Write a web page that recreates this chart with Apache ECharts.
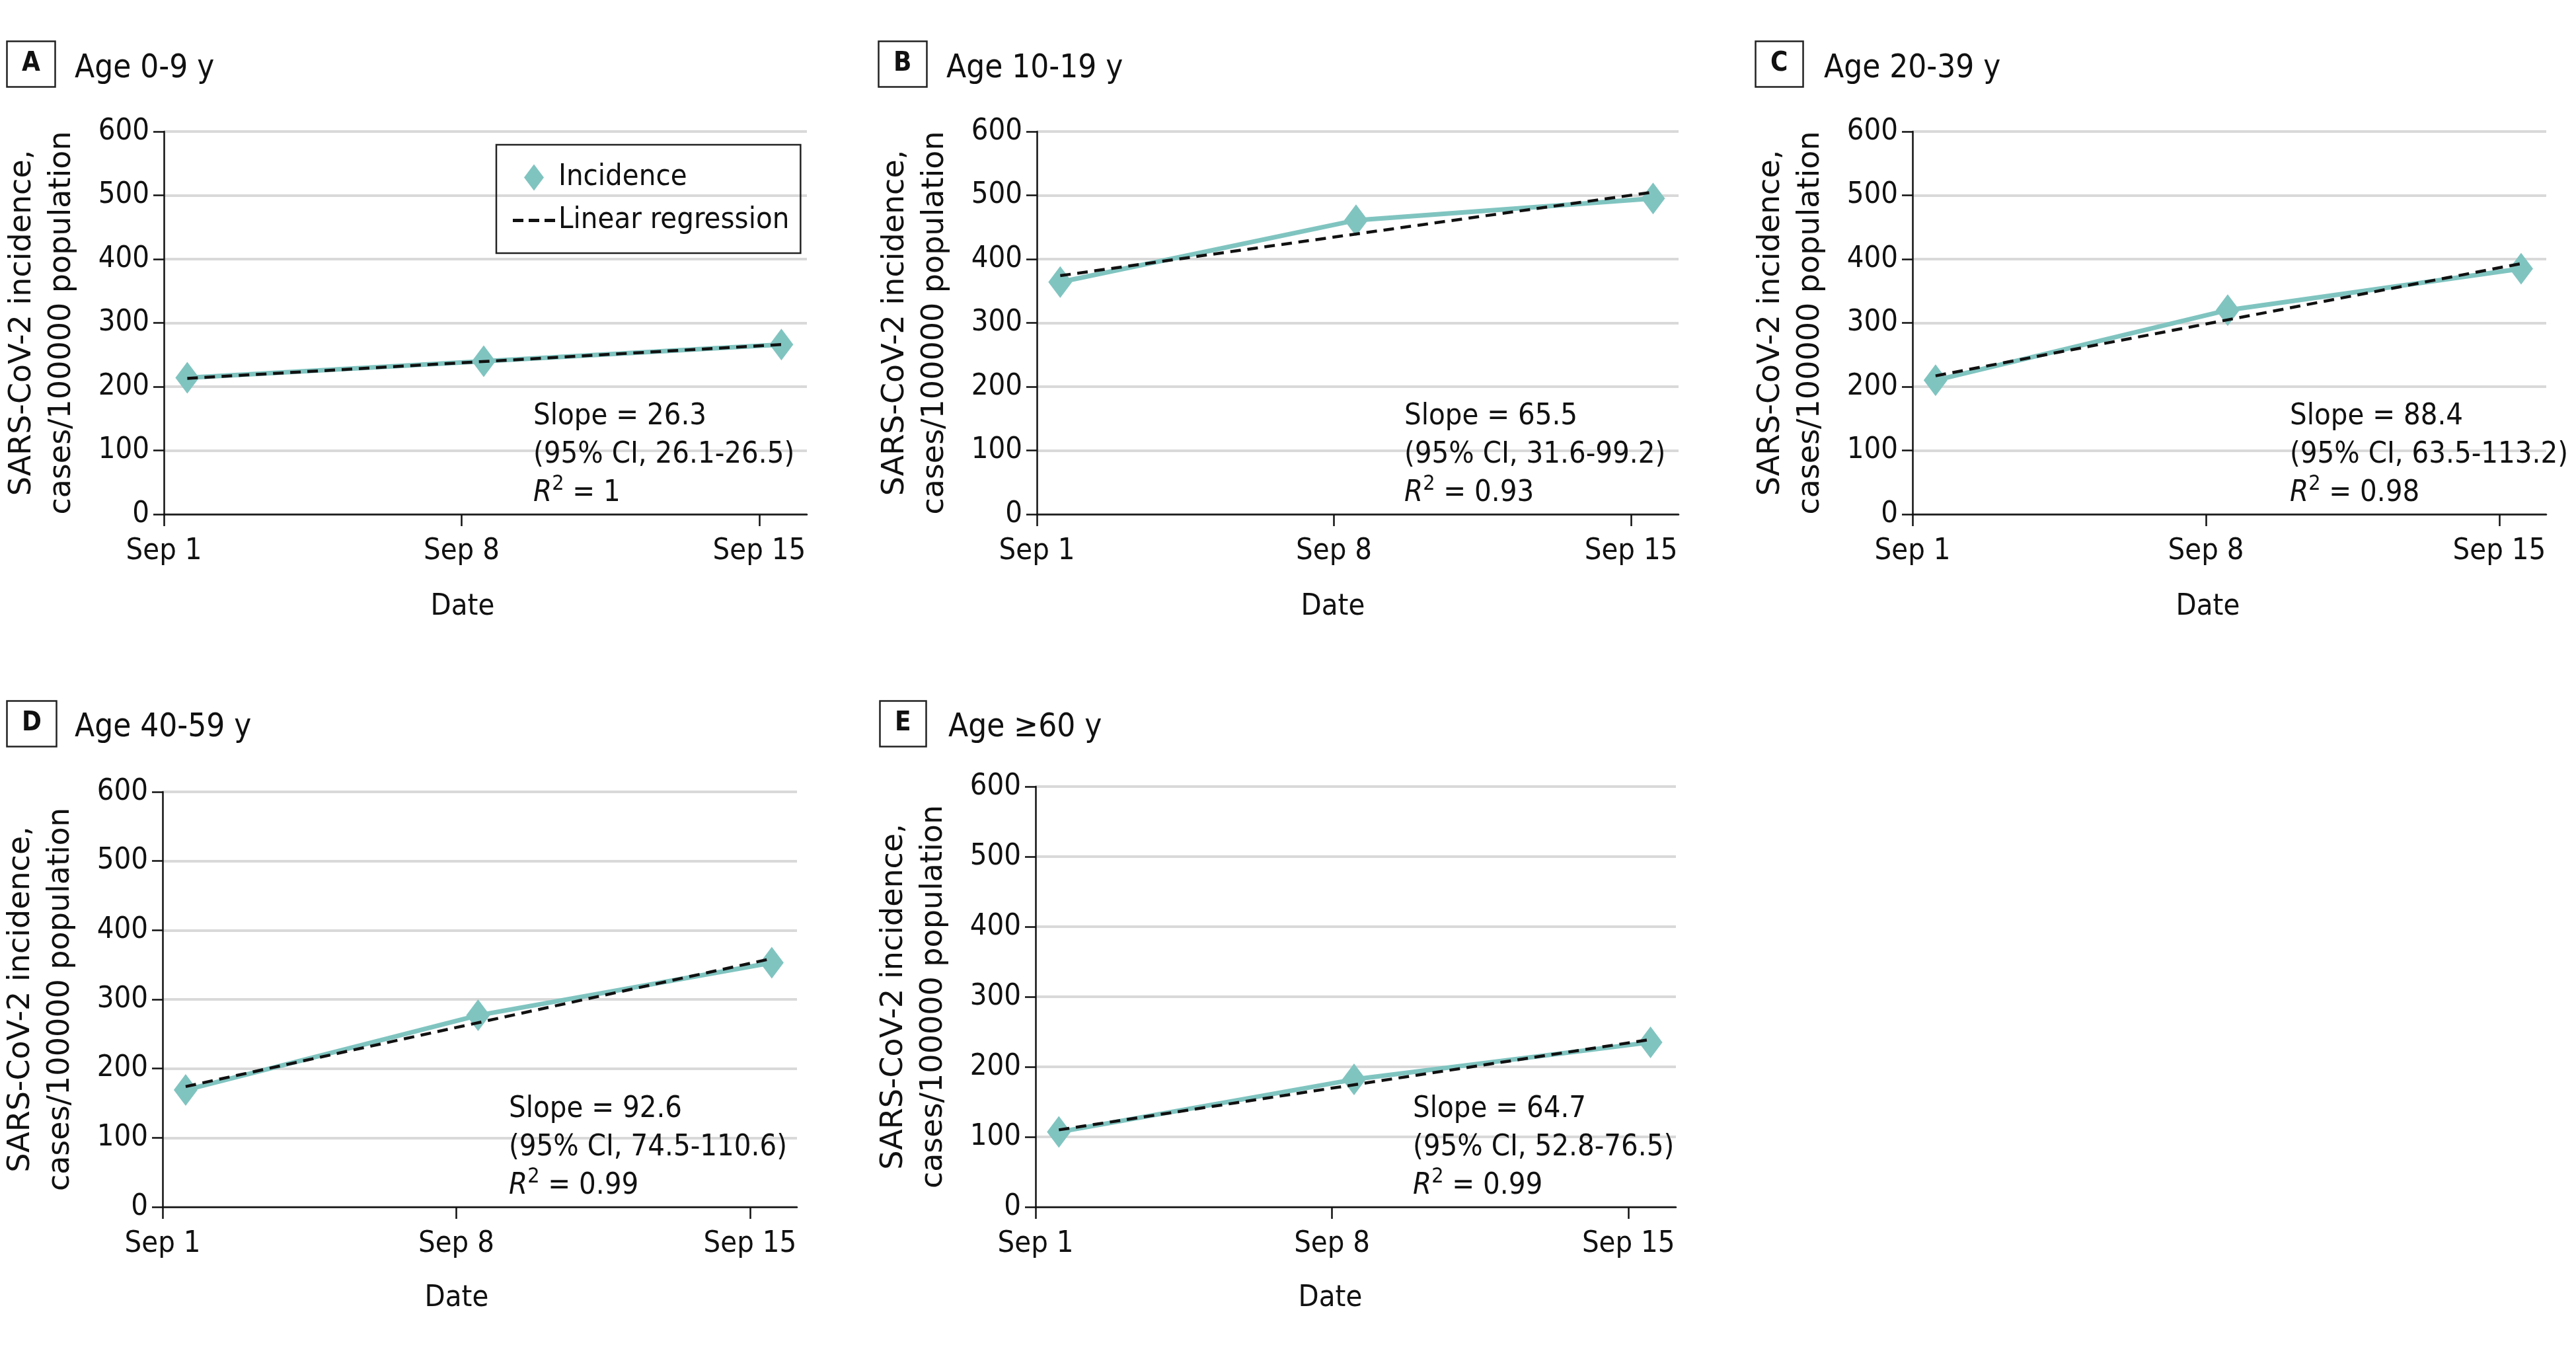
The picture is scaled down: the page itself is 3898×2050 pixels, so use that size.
<!DOCTYPE html>
<html>
<head>
<meta charset="utf-8">
<script src="https://cdn.jsdelivr.net/npm/echarts@6/dist/echarts.min.js"></script>
<style>
html, body { margin: 0; padding: 0; background: #fff; }
#chart { width: 3898px; height: 2050px; }
</style>
</head>
<body>
<div id="chart"></div>
<script>
// ---- data ----
const panelLetters = ['A', 'B', 'C', 'D', 'E'];
const panelTitles = ['Age 0-9 y', 'Age 10-19 y', 'Age 20-39 y', 'Age 40-59 y', 'Age ≥60 y'];

// day of September where each weekly point sits
const weekDays = [1.55, 8.52, 15.52];

const incidenceA = [214, 240, 266];
const incidenceB = [364, 461, 495];
const incidenceC = [210, 320, 385];
const incidenceD = [169, 277, 353];
const incidenceE = [107, 182, 235];

// regression line, value at first and last week
const regressionA = [213, 266];
const regressionB = [374, 505];
const regressionC = [217, 393];
const regressionD = [174, 359];
const regressionE = [110, 239];

const slopes = ['26.3', '65.5', '88.4', '92.6', '64.7'];
const cis = ['26.1-26.5', '31.6-99.2', '63.5-113.2', '74.5-110.6', '52.8-76.5'];
const r2s = ['1', '0.93', '0.98', '0.99', '0.99'];

const xTickValues = [1, 8, 15];
const xTickLabels = ['Sep 1', 'Sep 8', 'Sep 15'];
const yTicks = [0, 100, 200, 300, 400, 500, 600];

const incidence = [incidenceA, incidenceB, incidenceC, incidenceD, incidenceE];
const regression = [regressionA, regressionB, regressionC, regressionD, regressionE];

// ---- layout ----
const TEAL = '#80c4c0';
const INK = '#111';
const COND = "'DejaVu Sans Condensed', 'Liberation Sans Narrow', sans-serif";
const WIDE = "'DejaVu Sans', Verdana, sans-serif";

const grids = [
  { left: 248, top: 199, width: 973, height: 579 },
  { left: 1569, top: 199, width: 971, height: 579 },
  { left: 2894, top: 199, width: 959, height: 579 },
  { left: 246, top: 1198, width: 960, height: 628 },
  { left: 1567, top: 1190, width: 969, height: 636 }
];
const letterPos = [[10, 62], [1329, 62], [2656, 62], [10, 1060], [1331, 1060]];
const titlePos = [[113, 74], [1432, 74], [2760, 74], [113, 1071], [1435, 1071]];
const notePos = [[807, 601], [2125, 601], [3465, 601], [770, 1649], [2138, 1649]];
const datePos = [[700, 893], [2017, 893], [3341, 893], [691, 1939], [2013, 1939]];

const xMin = 1, xMax = 16.12;

const titles = [];
const xAxes = [];
const yAxes = [];
const series = [];

panelLetters.forEach((letter, i) => {
  titles.push({
    text: letter,
    left: letterPos[i][0], top: letterPos[i][1],
    padding: [14, 23, 14, 23],
    borderColor: '#222', borderWidth: 2.5,
    textStyle: { fontSize: 40, fontWeight: 'bold', fontFamily: COND, color: INK, lineHeight: 42 }
  });
  titles.push({
    text: panelTitles[i],
    left: titlePos[i][0], top: titlePos[i][1], padding: 0,
    textStyle: { fontSize: 49, fontWeight: 'normal', fontFamily: COND, color: INK, lineHeight: 60 }
  });
  titles.push({
    text: 'Slope = ' + slopes[i] + '\n(95% CI, ' + cis[i] + ')\n{i|R}{s|2} = ' + r2s[i],
    left: notePos[i][0], top: notePos[i][1], padding: 0,
    textStyle: {
      fontSize: 45, fontWeight: 'normal', fontFamily: COND, color: INK, lineHeight: 58,
      rich: {
        i: { fontSize: 45, fontStyle: 'italic', fontFamily: COND, color: INK, lineHeight: 58 },
        s: { fontSize: 32, fontFamily: COND, color: INK, lineHeight: 36, verticalAlign: 'top' }
      }
    }
  });
  titles.push({
    text: 'Date',
    left: datePos[i][0], top: datePos[i][1], padding: 0, textAlign: 'center',
    textStyle: { fontSize: 45, fontWeight: 'normal', fontFamily: COND, color: INK, lineHeight: 50 }
  });

  xAxes.push({
    type: 'value', gridIndex: i, min: xMin, max: xMax,
    splitLine: { show: false },
    axisLine: { show: true, onZero: false, lineStyle: { color: INK, width: 2.5 } },
    axisTick: { show: true, customValues: xTickValues, length: 18, lineStyle: { color: INK, width: 2.5 } },
    axisLabel: {
      customValues: xTickValues, margin: 34,
      fontSize: 45, fontFamily: COND, color: INK,
      formatter: v => xTickLabels[xTickValues.indexOf(v)] || ''
    }
  });
  yAxes.push({
    type: 'value', gridIndex: i, min: 0, max: 600, interval: 100,
    name: 'SARS-CoV-2 incidence,\ncases/100000 population',
    nameLocation: 'middle', nameGap: 124,
    nameTextStyle: { fontSize: 46, fontFamily: WIDE, color: INK, lineHeight: 60 },
    axisLine: { show: true, lineStyle: { color: INK, width: 2.5 } },
    axisTick: { show: true, length: 16, lineStyle: { color: INK, width: 2.5 } },
    axisLabel: {
      margin: 22, fontSize: 45, fontFamily: COND, color: INK,
      formatter: v => (yTicks.indexOf(v) >= 0 ? String(v) : '')
    },
    splitLine: { show: true, lineStyle: { color: '#d9d9d9', width: 4 } }
  });

  series.push({
    name: 'Incidence', type: 'line', xAxisIndex: i, yAxisIndex: i,
    data: weekDays.map((d, k) => [d, incidence[i][k]]),
    symbol: 'diamond', symbolSize: [36, 48],
    itemStyle: { color: TEAL },
    lineStyle: { color: TEAL, width: 7 },
    z: 2, animation: false
  });
  series.push({
    name: 'Linear regression', type: 'line', xAxisIndex: i, yAxisIndex: i,
    data: [[weekDays[0], regression[i][0]], [weekDays[2], regression[i][1]]],
    symbol: 'none',
    itemStyle: { color: '#111' },
    lineStyle: { color: '#111', width: 4.5, type: [16, 10] },
    z: 3, animation: false
  });
});

const chart = echarts.init(document.getElementById('chart'));
chart.setOption({
  backgroundColor: '#fff',
  animation: false,
  title: titles,
  legend: {
    orient: 'vertical', left: 751, top: 219,
    borderColor: '#222', borderWidth: 2.5,
    padding: [27, 17, 27, 25],
    itemWidth: 64, itemHeight: 40, itemGap: 20,
    textStyle: { fontSize: 45, fontFamily: COND, color: INK },
    data: [
      { name: 'Incidence', icon: 'path://M18,0L36,24L18,48L0,24Z', itemStyle: { color: TEAL } },
      { name: 'Linear regression', icon: 'path://M0,0H16V5H0Z M24,0H40V5H24Z M48,0H64V5H48Z', itemStyle: { color: '#111' } }
    ]
  },
  grid: grids,
  xAxis: xAxes,
  yAxis: yAxes,
  series: series
});
</script>
</body>
</html>
